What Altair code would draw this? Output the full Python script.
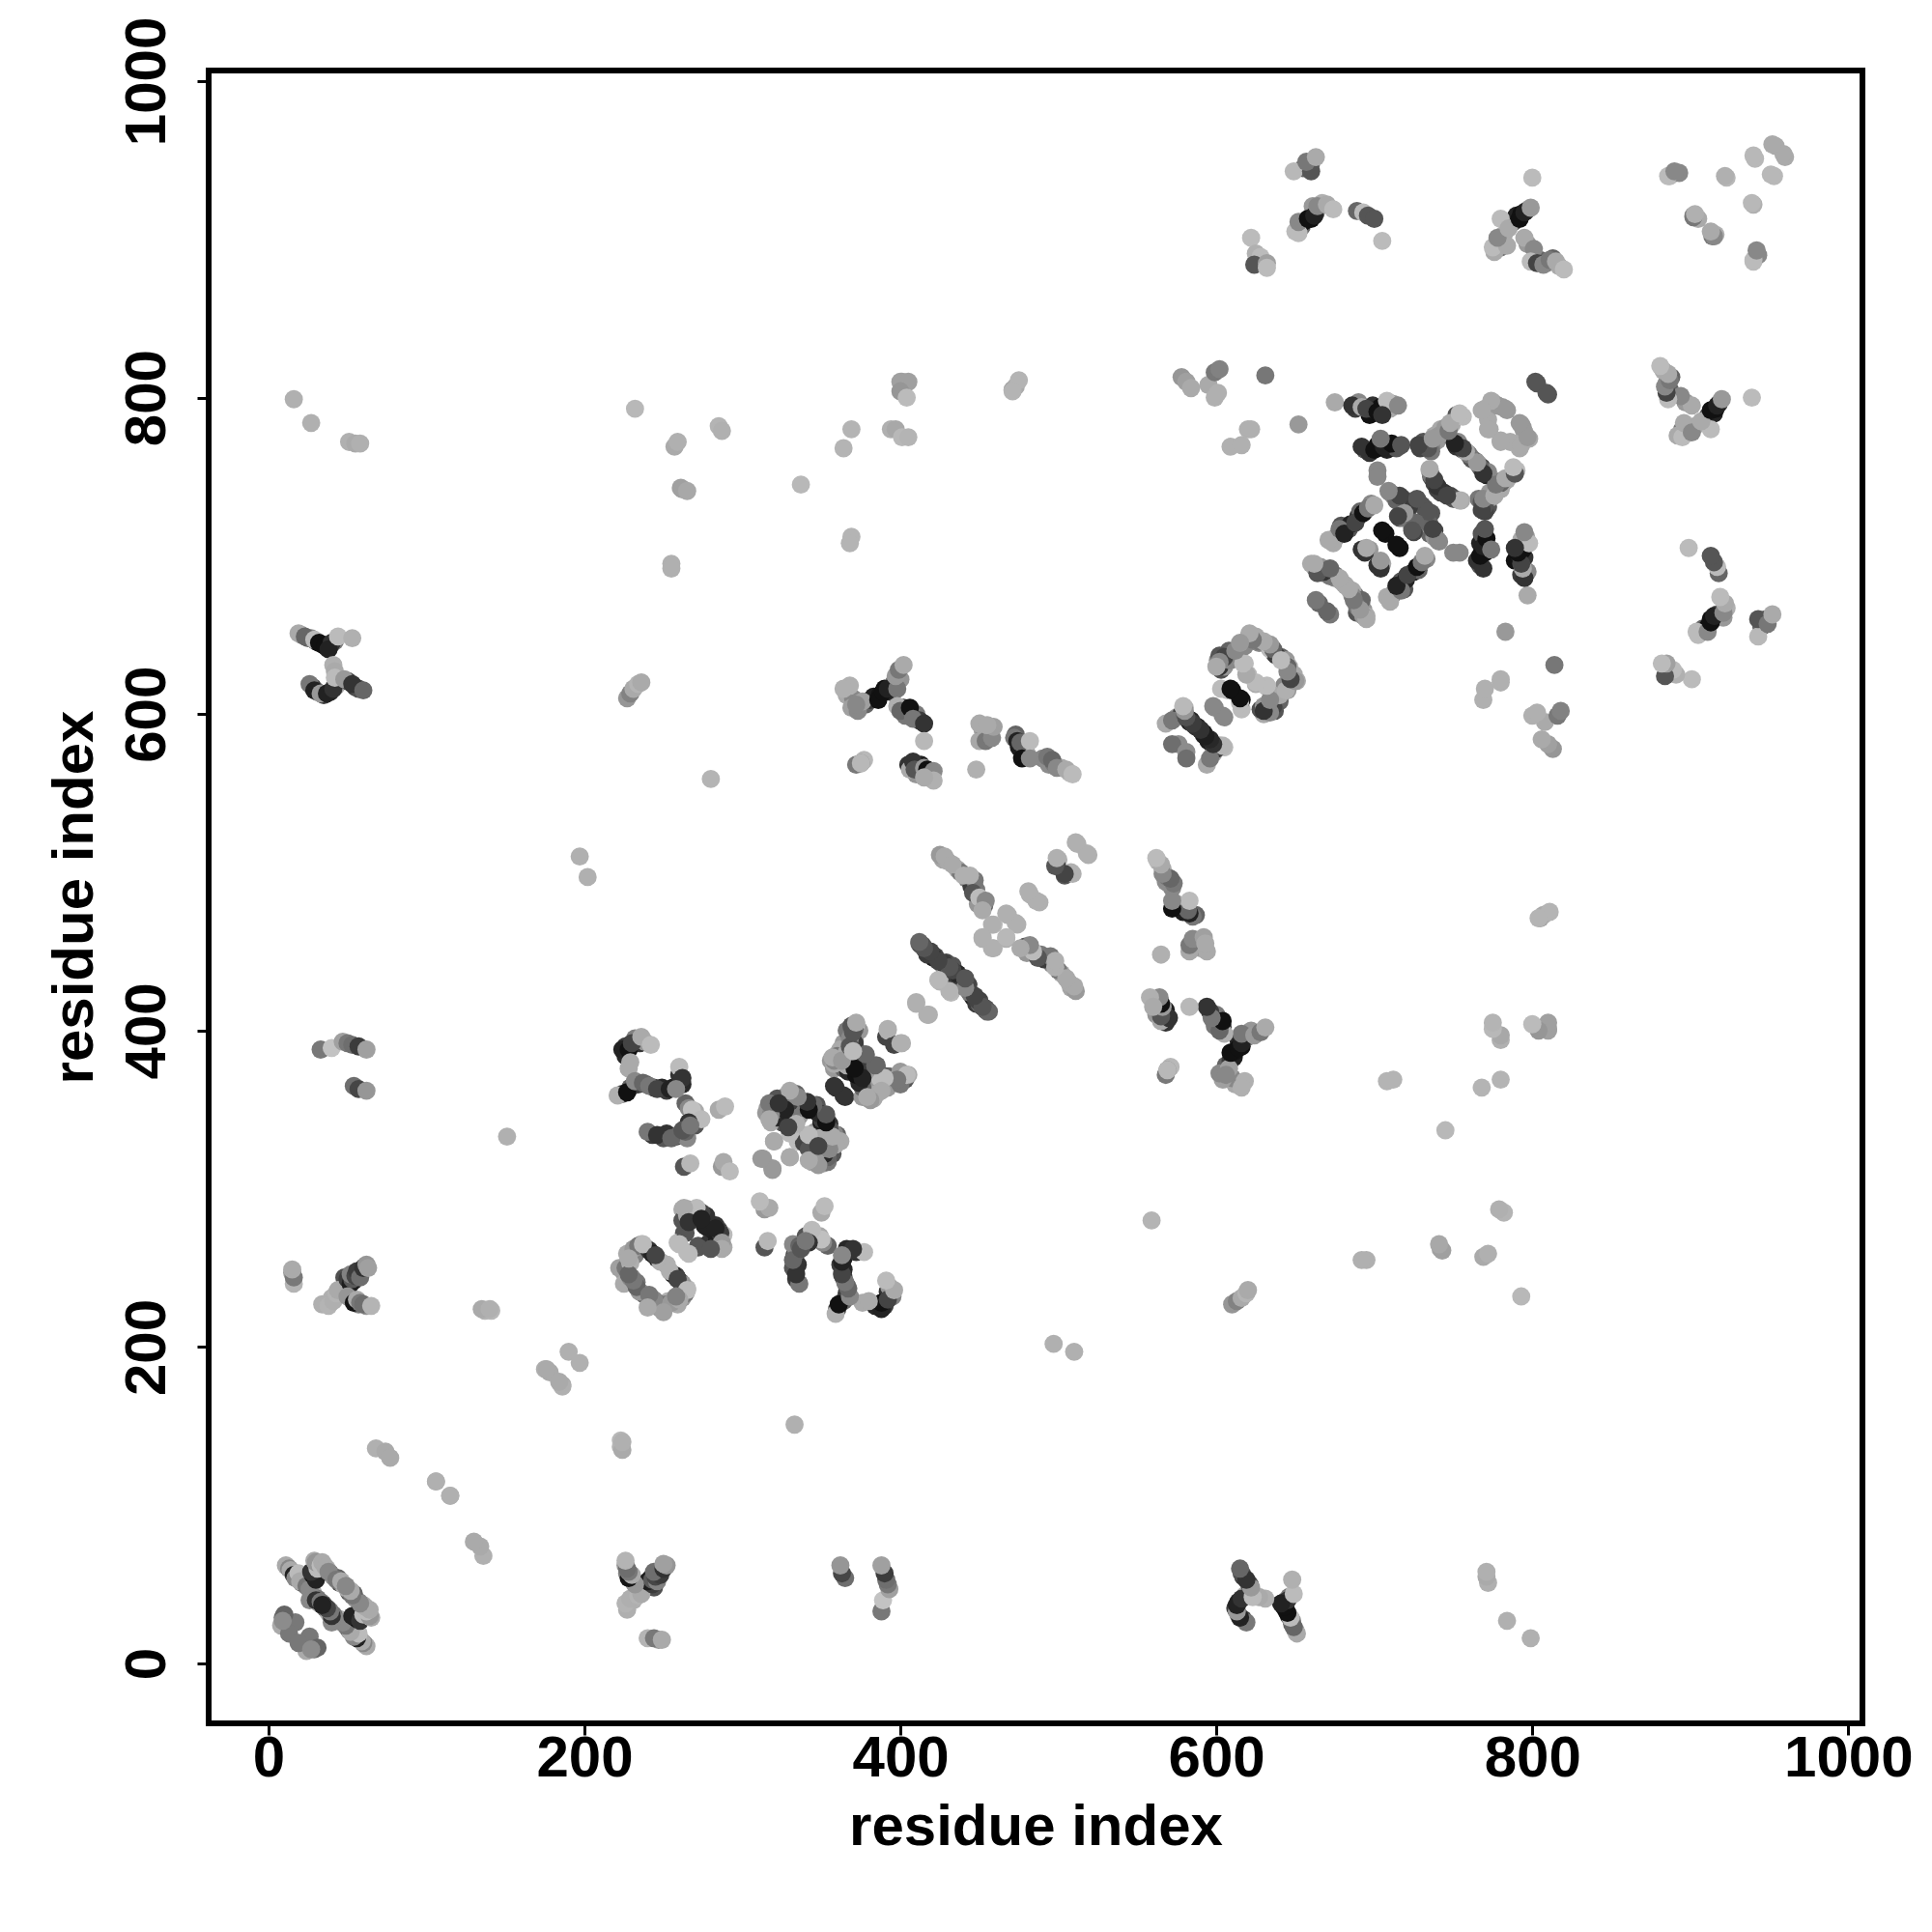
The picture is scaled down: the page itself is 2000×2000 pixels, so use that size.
import altair as alt

origin_under = [
 (12,61,150),(15,58,120),(18,55,60),(21,51,136),(23,50,60),(25,48,100),(27,43,140),(28,45,170),(29,41,80),(31,41,119),(32,38,170),(34,38,40),(36,35,120),
 (31,62,60),(32,63,120),(35,60,60),(37,60,187),(39,57,100),(41,55,150),(44,54,100),(45,51,80),(47,50,170),(28,58,60),(27,55,20),(29,54,20),(31,56,40),
]
left_under = [
 (48,244,80),(51,241,40),(54,242,40),(57,246,100),(59,249,90),(61,251,120),(37,227,170),(40,231,176),(46,236,160),(52,231,40),(55,229,60),(57,227,130),(62,226,150),(15,247,150),
 (21,650,140),(25,648,90),(27,648,140),(30,646,60),(34,644,20),(37,642,30),(39,643,60),(42,646,120),(28,617,60),(31,614,100),(35,612,60),(39,614,40),(43,618,170),(45,620,170),(50,621,60),(55,617,60),(57,616,80),
]
mid_under = [
 (366,612,170),(370,610,136),(369,604,160),(374,605,150),(378,606,100),(381,609,60),(383,611,30),(387,612,20),(390,616,17),(394,614,40),(396,620,120),(400,622,150),(402,604,60),(404,601,130),(410,600,120),(412,596,60),(403,599,120),(405,568,51),(411,563,85),(413,568,30),(410,562,150),(419,562,40),(406,565,170),(372,568,120),(377,571,184),
 (452,590,160),(453,586,120),(456,588,170),(473,587,100),(475,579,30),(479,578,60),(480,575,170),(490,572,136),(494,568,140),(497,569,120),(502,566,170),(507,563,184),
 (427,508,165),(430,507,170),(436,502,170),(438,500,120),(442,496,130),(445,491,60),(448,489,120),(449,480,150),(453,479,80),(414,454,85),(417,450,102),(419,449,68),(424,444,120),(429,443,70),(431,436,60),(436,436,40),(438,433,70),(442,428,60),(446,421,30),(448,417,60),(454,413,80),
]
group_under = [
 (226,384,40),(226,390,60),(232,395,130),(235,392,50),(238,393,150),(228,376,170),(224,360,60),(229,364,100),(234,366,60),(239,366,85),(244,364,60),(249,364,40),(252,362,60),(256,364,30),(260,372,50),(262,366,40),(264,354,100),(268,345,140),(270,349,170),(270,340,85),(243,334,60),(250,332,85),(252,335,51),(258,333,60),(260,334,120),(265,332,136),(264,336,100),
 (318,351,120),(320,354,100),(322,352,40),(323,347,153),(330,353,85),(336,350,30),(338,355,85),(344,350,60),(348,348,40),(352,340,30),(346,336,153),(343,332,30),(350,332,120),(355,330,60),(352,325,20),(358,328,120),(345,322,40),(349,320,100),(351,316,153),(357,322,85),(360,334,100),(335,330,187),(325,342,85),(332,349,170),
 (360,385,170),(364,392,153),(366,400,119),(371,393,100),(374,400,153),(358,376,153),(364,376,100),(367,374,40),(372,372,17),(374,378,153),(379,376,60),(378,366,170),(381,358,136),(384,360,119),(386,366,170),(388,372,119),(392,371,60),(395,368,136),(401,371,100),(403,369,85),
 (227,252,120),(225,247,153),(230,244,136),(235,235,153),(238,233,100),(244,229,136),(250,226,119),(253,229,176),(259,227,170),(262,231,153),(264,234,119),(261,241,51),(259,243,34),(252,252,176),(246,256,34),(240,262,153),(268,284,30),(272,286,60),(277,276,34),(283,277,51),(285,268,85),(283,265,170),
]
diag_under = [
 (575,598,160),(578,600,60),(583,595,30),(588,592,20),(592,587,50),(596,583,40),(600,580,100),(603,628,80),(605,630,150),(612,640,170),(618,644,136),(624,648,170),(630,645,100),(637,638,60),(641,636,100),(646,627,119),(649,625,170),(643,618,136),(640,608,100),(637,602,85),
 (662,693,153),(668,689,119),(675,686,136),(682,681,170),(688,675,119),(690,668,51),(693,666,150),(676,712,136),(674,708,170),(679,719,85),(684,717,85),(685,720,34),(690,725,34),(691,728,100),(698,733,136),(720,735,100),(732,730,85),(731,722,60),(724,718,119),(735,714,100),(712,738,150),
 (688,793,60),(690,797,136),(697,789,17),(699,795,51),(700,792,34),(704,794,17),(710,793,170),(712,796,150),(694,767,85),(697,765,51),(702,770,17),(708,767,34),(714,768,85),(732,770,85),(740,773,153),(742,780,170),(746,780,100),(753,772,136),(756,767,100),(761,762,85),(764,760,119),(736,750,85),(740,742,68),(744,740,51),(751,736,119),(766,736,119),(772,731,85),(776,741,153),(781,745,153),(778,795,170),(772,786,170),(781,794,153),(795,778,153),
]
top_under = [
 (650,905,187),(654,908,100),(655,911,17),(660,913,17),(663,917,100),(661,921,153),(667,923,176),(655,945,100),(660,948,100),
 (788,911,85),(790,915,34),(793,916,17),(796,918,60),(777,897,160),(780,895,120),(782,903,170),(797,897,153),(805,887,100),(809,885,119),(813,888,100),(817,883,170),
]
origin_block = [
 (9,29,110),(8,24,170),(17,26,120),(13,19,120),(10,31,100),(9,27,140),
 (11,62,170),(13,60,136),(14,59,170),(16,56,34),(17,54,136),(19,57,187),(20,52,170),(24,49,119),(26,47,136),
 (26,40,136),(30,40,51),(33,39,119),(35,37,68),(37,34,34),(28,56,17),(30,53,34),(27,58,51),(31,60,187),
 (29,65,170),(30,64,150),(33,62,187),(34,64,170),(36,61,170),(38,58,136),(43,53,119),(46,52,170),(49,49,136),
]
left_column = [
 (16,240,180),(16,244,120),(15,249,170),
 (34,227,175),(38,226,180),(41,229,175),(43,234,180),(44,236,170),
 (50,243,60),(52,240,30),(53,243,90),(52,246,130),(55,245,70),(56,248,60),(58,244,110),(60,250,50),(62,252,150),(63,250,160),
 (50,232,150),(54,228,20),(56,230,170),(58,228,120),(60,227,110),(65,226,180),
 (33,388,120),(40,389,195),(47,393,160),(50,392,120),(53,391,110),(57,390,60),(62,388,160),
 (54,365,110),(57,363,70),(62,362,150),
]
left_upper = [
 (19,651,170),(23,649,102),(29,647,187),(32,645,17),(36,643,17),(40,645,51),(38,641,34),(44,649,187),(53,648,176),
 (41,631,176),(42,627,170),
 (26,619,119),(29,615,34),(33,613,153),(37,613,34),(41,616,51),(42,623,187),(48,622,153),(53,619,51),(60,615,102),
 (16,799,176),(27,784,176),(51,772,176),(55,771,170),(58,771,176),
]
sparse_points = [
 (137,223,180),(141,223,184),(68,136,176),(74,134,170),(77,130,170),(106,115,176),(115,106,176),
 (151,333,176),(135,224,170),(140,224,176),(175,186,176),(178,184,170),(190,197,176),(186,176,170),
 (197,510,176),(202,497,176),(280,559,180),
 (232,793,184),(257,769,170),(259,772,176),(285,782,180),(287,779,176),(261,743,160),(262,742,160),(265,741,168),
 (255,695,176),(255,692,176),(337,745,184),(369,780,180),(364,768,180),(369,712,180),(368,708,180),
 (400,810,160),(401,810,160),(405,810,160),(400,804,150),(404,800,187),
 (394,780,176),(397,780,168),(401,775,184),(405,775,180),
 (471,805,160),(473,807,170),(475,811,180),(471,804,180),
 (227,610,150),(229,613,130),(231,616,170),(234,619,180),(236,620,170),
]
mid_top_a = [
 (368,618,176),(364,616,176),(373,602,136),(376,608,160),(372,606,136),(386,609,17),(389,614,17),(392,616,34),
 (398,616,119),(397,624,153),(399,628,119),(402,631,170),
 (398,605,176),(400,602,102),(406,604,17),(408,597,119),(415,594,51),(415,583,184),
 (375,569,136),(375,569,184),(408,570,51),(409,565,85),(415,566,153),(417,565,17),(421,564,136),(421,558,176),(415,560,170),
 (448,565,176),
]
mid_top_b = [
 (450,594,170),(450,583,168),(454,583,119),(458,585,136),(459,592,160),(455,593,170),
 (472,585,119),(474,583,34),(476,582,102),(482,583,187),(477,572,17),(482,572,136),
 (493,573,119),(496,571,102),(499,566,136),(505,565,170),(509,562,187),
]
middle_strands = [
 (425,511,153),(428,510,170),(433,505,170),(440,498,176),(447,495,119),(444,498,176),(446,487,85),(450,484,187),(454,482,136),(452,476,170),
 (412,455,102),(415,452,85),(422,447,68),(427,441,136),(433,441,85),(425,431,180),(440,431,85),(432,424,184),(444,424,68),(450,419,68),(452,415,85),(456,412,102),
 (468,473,176),(474,467,176),(459,467,184),(452,458,176),(467,458,176),(459,452,176),(482,486,176),(488,481,176),
 (500,508,176),(499,504,68),(504,498,85),(509,499,176),(512,518,176),(519,511,176),
]
group_220 = [
 (224,388,34),(228,388,17),(230,392,68),(236,396,170),(242,391,187),(229,380,170),
 (221,359,176),(227,361,17),(232,368,136),(237,367,102),(241,365,119),(246,363,68),(254,363,34),(260,377,187),(262,370,51),(258,363,136),
 (266,351,136),(268,350,192),(274,344,187),(266,342,51),
 (240,336,119),(246,334,51),(255,332,102),(262,337,85),(267,340,119),(285,350,170),(289,352,187),
 (263,314,85),(267,316,184),(287,314,153),(288,317,170),(292,311,187),(313,319,153),(319,312,153),
]
group_310 = [
 (315,348,153),(318,342,170),(328,359,170),(325,355,136),(333,357,170),(342,353,17),(347,353,85),(334,342,187),(327,348,68),
 (353,345,102),(350,342,17),(355,341,51),(341,334,176),(339,329,68),(358,335,136),(362,330,170),(350,327,34),
 (347,318,136),(354,317,119),(354,323,51),(344,317,170),(330,320,170),(320,330,170),
]
group_360 = [
 (372,404,187),(369,398,119),(370,390,187),(362,388,170),(356,381,153),(358,379,170),(370,376,34),(378,384,102),(385,378,102),
 (376,371,17),(383,357,170),(381,363,153),(390,368,85),(399,370,85),(405,372,170),(387,370,187),(391,396,68),(392,400,176),(401,392,176),
 (359,364,51),(365,358,51),(410,417,176),(418,410,176),
]
ring_245 = [
 (228,255,153),(233,241,119),(242,231,119),(246,228,102),(256,228,170),(265,237,187),(258,245,68),(248,254,176),(243,259,68),(236,265,187),(230,260,170),
 (222,250,160),(225,240,170),(232,258,130),
 (263,272,85),(275,283,34),(266,287,153),(262,287,170),(285,274,68),(288,271,187),(288,263,170),(272,264,85),(259,266,187),(265,260,187),(262,280,85),(279,266,51),(281,274,34),
]
ring_600 = [
 (568,594,170),(572,596,120),(576,581,140),(572,581,110),(580,604,180),(581,598,50),(584,596,40),(586,593,30),(590,590,50),(594,585,60),(598,581,80),(602,580,150),(605,579,185),
 (599,604,136),(605,598,136),(607,615,187),(616,603,187),(610,615,17),(616,609,17),
 (601,634,136),(602,630,51),(609,634,136),(615,644,176),(621,650,153),(622,647,68),(627,645,136),(634,641,187),(644,634,153),(646,630,170),(647,623,119),(651,621,170),
 (618,632,187),(620,625,187),(625,619,170),(632,617,187),(636,605,68),(640,612,136),(645,615,153),(633,602,136),(630,600,170),
]
diag_700 = [
 (660,695,170),(666,691,153),(672,687,119),(679,684,170),(686,678,170),(689,664,85),(692,672,102),(695,662,170),(665,670,102),(672,663,119),
 (671,710,170),(678,717,119),(681,714,34),(688,721,68),(693,727,17),(696,730,119),(700,732,170),
 (692,704,51),(697,704,153),(702,694,51),(705,695,170),(707,714,17),(716,705,17),
 (710,740,136),(717,737,68),(728,734,85),(736,727,85),(721,726,102),(716,724,85),(727,719,153),(738,716,68),(741,709,136),(725,715,68),
]
diag_700_upper = [
 (631,814,119),(652,783,153),(675,797,170),(686,795,51),(692,794,170),(695,793,68),(702,791,17),(708,798,187),(705,789,51),(715,795,136),
 (692,769,51),(700,767,17),(706,769,34),(711,771,17),(717,770,85),(704,774,119),(702,754,136),(702,750,136),
 (729,768,68),(736,769,136),(738,776,170),(745,777,119),(749,783,170),(752,789,85),(756,788,187),
 (752,769,51),(759,765,153),(766,758,170),(768,756,68),(771,751,34),
 (735,754,176),(738,746,68),(748,738,68),(755,735,170),(768,734,85),(770,728,68),(774,737,153),(779,747,119),(784,748,170),(790,754,187),
 (770,793,170),(775,797,153),(773,780,170),(784,792,153),(793,783,153),(798,774,170),(780,772,170),(792,768,170),
 (803,809,85),(810,802,85),
]
upper_sparse = [
 (578,813,150),(581,810,160),(584,806,170),(595,808,170),(599,816,120),(602,818,130),(599,800,176),(601,803,176),
 (609,769,176),(616,770,176),(620,780,176),(622,780,176),
]
top_row_a = [
 (622,901,187),(625,891,176),(628,889,187),(624,884,85),(632,885,160),(632,882,187),
 (649,943,184),(660,943,85),(657,949,119),(663,952,170),
 (652,904,187),(652,911,136),(658,913,17),(662,915,34),(664,921,136),(670,922,170),(674,919,187),
 (689,918,102),(693,917,187),(696,915,85),(700,913,85),(705,899,187),
]
top_row_b = [
 (800,939,187),(780,913,187),(776,892,170),(775,895,187),(784,896,170),(778,901,136),(785,907,170),
 (792,913,17),(795,917,34),(799,920,153),(795,901,170),(801,894,136),(799,886,187),(803,885,68),
 (807,884,136),(811,887,119),(815,886,170),(820,881,187),
]
top_corner = [
 (887,940,187),(893,942,136),(941,951,184),(923,939,184),(954,959,170),(960,952,170),(953,940,184),(940,922,176),
 (902,915,136),(905,913,170),(914,902,119),(916,903,176),(940,886,187),(943,890,136),
]

clusters = [origin_under, left_under, mid_under, group_under, diag_under, top_under,
            origin_block, left_column, left_upper, sparse_points, mid_top_a, mid_top_b, middle_strands,
            group_220, group_310, group_360, ring_245, ring_600, diag_700, diag_700_upper,
            upper_sparse, top_row_a, top_row_b, top_corner]

tick_values = [0, 200, 400, 600, 800, 1000]
axis_title = "residue index"

rows = []
for cl in clusters:
    for a, b, g in cl:
        rows.append({"x": a, "y": b, "c": f"rgb({g},{g},{g})"})
for cl in clusters:
    for a, b, g in cl:
        rows.append({"x": b, "y": a, "c": f"rgb({g},{g},{g})"})

FONT = "Liberation Sans"
common = dict(values=tick_values, grid=False, domain=False, ticks=True, tickColor="black", tickWidth=3, tickSize=12, format="d",
              labelFont=FONT, labelFontWeight="bold", labelFontSize=60, labelColor="black",
              titleFont=FONT, titleFontWeight="bold", titleFontSize=60, titleColor="black", labelOverlap=False, labelFlush=False)

chart = alt.Chart(alt.Data(values=rows)).mark_circle(size=355, opacity=1).encode(
    x=alt.X("x:Q", title=axis_title, scale=alt.Scale(domain=[-37.9, 1009], nice=False, zero=False),
            axis=alt.Axis(labelPadding=-5, titlePadding=12, **common)),
    y=alt.Y("y:Q", title=axis_title, scale=alt.Scale(domain=[-37.8, 1006.7], nice=False, zero=False),
            axis=alt.Axis(labelAngle=270, labelAlign="center", labelBaseline="bottom", labelPadding=21, titlePadding=14, **common)),
    color=alt.Color("c:N", scale=None, legend=None),
).properties(
    width=1712, height=1711, autosize="none",
    padding={"left": 208, "top": 65, "right": 60, "bottom": 200},
    background="white",
).configure_view(stroke="black", strokeWidth=6)

chart.save("out.html", embed_options={"renderer": "svg", "actions": False})
